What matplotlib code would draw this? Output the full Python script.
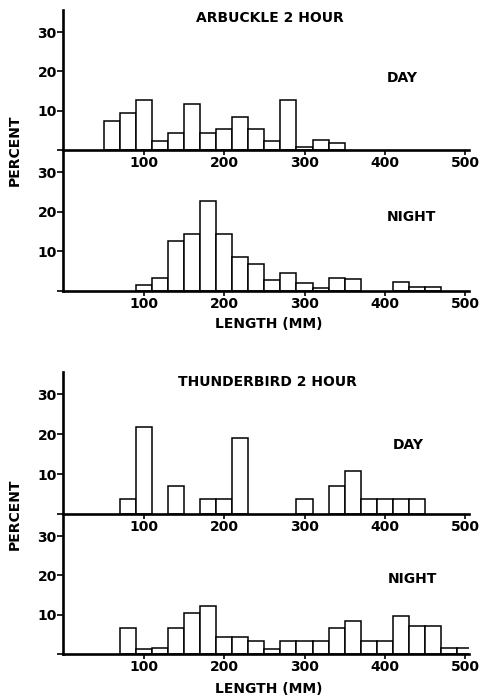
import matplotlib
matplotlib.use("Agg")
import matplotlib.pyplot as plt

# ---- data (length bin centres in mm, percent) ----
arb_day_len = [60, 80, 100, 120, 140, 160, 180, 200, 220, 240, 260, 280, 300, 320, 340]
arb_day_pct = [7.4, 9.4, 12.7, 2.3, 4.4, 11.6, 4.4, 5.4, 8.5, 5.4, 2.3, 12.7, 0.7, 2.5, 1.7]

arb_night_len = [100, 120, 140, 160, 180, 200, 220, 240, 260, 280, 300, 320, 340, 360, 420, 440, 460]
arb_night_pct = [1.5, 3.3, 12.6, 14.3, 22.7, 14.3, 8.5, 6.7, 2.9, 4.5, 2.1, 0.8, 3.3, 3.1, 2.3, 0.9, 0.9]

thu_day_len = [80, 100, 140, 180, 200, 220, 300, 340, 360, 380, 400, 420, 440]
thu_day_pct = [3.8, 21.9, 7.0, 3.8, 3.8, 19.0, 3.8, 7.0, 10.8, 3.8, 3.8, 3.8, 3.8]

thu_night_len = [80, 100, 120, 140, 160, 180, 200, 220, 240, 260, 280, 300, 320,
                 340, 360, 380, 400, 420, 440, 460, 480, 500]
thu_night_pct = [6.5, 1.2, 1.4, 6.5, 10.5, 12.3, 4.3, 4.3, 3.2, 1.2, 3.3, 3.3, 3.3,
                 6.7, 8.5, 3.3, 3.3, 9.7, 7.0, 7.0, 1.6, 1.6]

x_ticks = [100, 200, 300, 400, 500]
y_ticks = [0, 10, 20, 30]
y_ticklabels = ["", "10", "20", "30"]

titles = ["ARBUCKLE 2 HOUR", "THUNDERBIRD 2 HOUR"]
bin_width = 20

plt.rcParams["font.family"] = ["DejaVu Sans"]
plt.rcParams["font.weight"] = "bold"

W, H = 484, 697
fig = plt.figure(figsize=(W / 100, H / 100), dpi=100)


def px_axes(left, top, right, bottom):
    return fig.add_axes([left / W, 1 - bottom / H, (right - left) / W, (bottom - top) / H])


def style(ax):
    ax.set_facecolor("none")
    ax.set_xlim(-1, 505)
    ax.set_ylim(0, 35.6)
    for s in ("top", "right"):
        ax.spines[s].set_visible(False)
    for s in ("left", "bottom"):
        ax.spines[s].set_linewidth(1.9)
        ax.spines[s].set_zorder(5)
    ax.set_xticks(x_ticks)
    ax.set_xticklabels([str(t) for t in x_ticks])
    ax.set_yticks(y_ticks)
    ax.set_yticklabels(y_ticklabels)
    ax.tick_params(axis="x", direction="out", length=3.5, width=1.2, pad=1,
                   labelsize=10)
    ax.tick_params(axis="y", direction="out", length=4, width=1.2, pad=0.5,
                   labelsize=10)
    for lab in ax.get_xticklabels() + ax.get_yticklabels():
        lab.set_fontweight("bold")


def bars(ax, xs, ys):
    ax.bar(xs, ys, width=bin_width, color="white", edgecolor="black",
           linewidth=1.1, zorder=3)


panels = [
    (10, 150, arb_day_len, arb_day_pct),
    (150, 291, arb_night_len, arb_night_pct),
    (372, 514, thu_day_len, thu_day_pct),
    (514, 654, thu_night_len, thu_night_pct),
]
for top, bottom, xs, ys in panels:
    ax = px_axes(63, top, 469, bottom)
    style(ax)
    bars(ax, xs, ys)


def ftext(x, y, s, **kw):
    fig.text(x / W, 1 - y / H, s, ha="center", va="center", fontsize=10,
             fontweight="bold", **kw)


ftext(270, 18, titles[0])
ftext(402, 78, "DAY")
ftext(411, 217, "NIGHT")
ftext(15, 150, "PERCENT", rotation=90)
ftext(269, 324, "LENGTH (MM)")

ftext(267, 382, titles[1])
ftext(408, 445, "DAY")
ftext(412, 579, "NIGHT")
ftext(15, 514, "PERCENT", rotation=90)
ftext(269, 689, "LENGTH (MM)")

fig.savefig("out.png", dpi=100)
